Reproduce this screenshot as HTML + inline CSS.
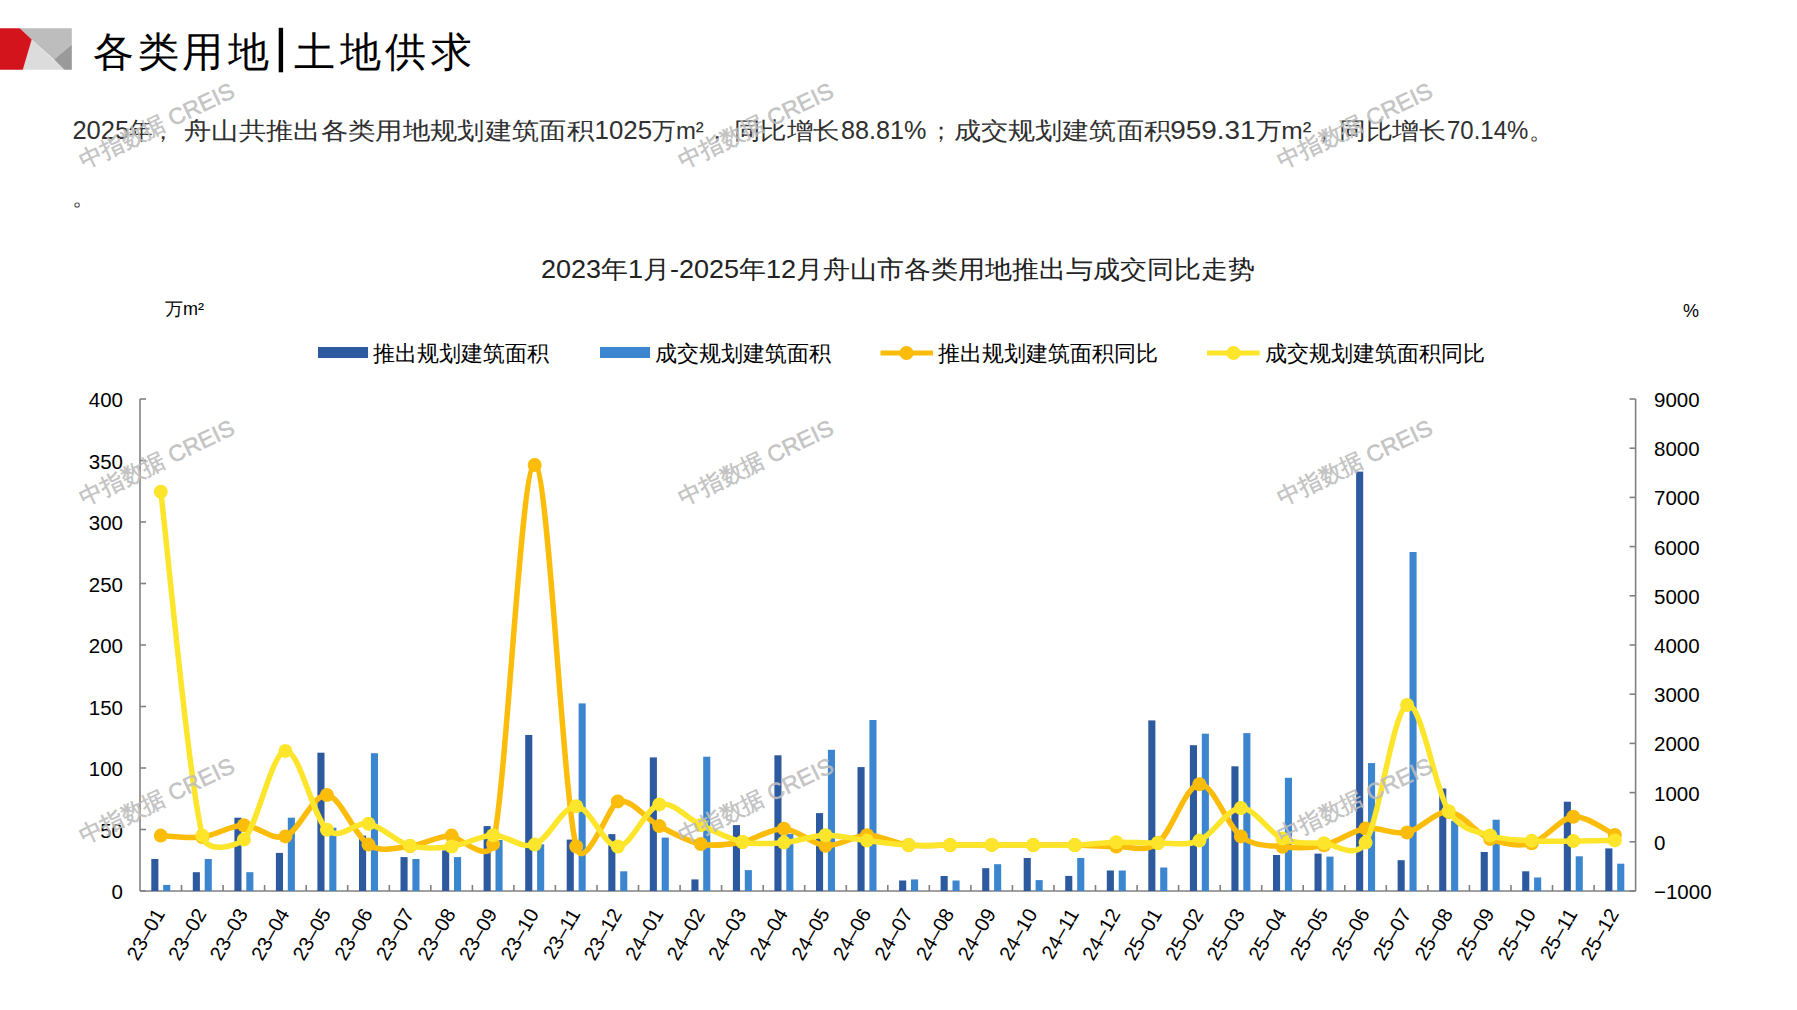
<!DOCTYPE html><html><head><meta charset="utf-8"><style>html,body{margin:0;padding:0;background:#fff;width:1797px;height:1010px;overflow:hidden}svg{display:block}text{font-family:"Liberation Sans",sans-serif}</style></head><body>
<svg width="1797" height="1010" viewBox="0 0 1797 1010">
<polygon points="19.8,28.2 71.8,28.2 71.8,44.6 54,59.4 31.7,39.6" fill="#bdbdbd"/>
<polygon points="31.7,39.6 64.4,69.8 22.8,69.8" fill="#dcdcdc"/>
<polygon points="71.8,44.6 54,59.4 64.4,69.8 71.8,69.8" fill="#9a9a9a"/>
<polygon points="0,28.2 19.8,28.2 31.7,39.6 22.8,69.8 0,69.8" fill="#d4141c"/>
<text x="113.2" y="66" font-size="41" fill="#000" font-weight="300" text-anchor="middle">各</text>
<text x="158.5" y="66" font-size="41" fill="#000" font-weight="300" text-anchor="middle">类</text>
<text x="202.5" y="66" font-size="41" fill="#000" font-weight="300" text-anchor="middle">用</text>
<text x="248.0" y="66" font-size="41" fill="#000" font-weight="300" text-anchor="middle">地</text>
<text x="314.9" y="66" font-size="41" fill="#000" font-weight="300" text-anchor="middle">土</text>
<text x="360.5" y="66" font-size="41" fill="#000" font-weight="300" text-anchor="middle">地</text>
<text x="405.0" y="66" font-size="41" fill="#000" font-weight="300" text-anchor="middle">供</text>
<text x="451.2" y="66" font-size="41" fill="#000" font-weight="300" text-anchor="middle">求</text>
<rect x="278.7" y="27.8" width="4.4" height="44.5" fill="#000"/>
<text x="72.4" y="139" font-size="24" fill="#303030" font-weight="300" textLength="80.4" lengthAdjust="spacingAndGlyphs"><tspan font-size="26">2025</tspan>年</text>
<text x="151.0" y="139" font-size="24" fill="#303030" font-weight="300">，</text>
<text x="184.2" y="139" font-size="24" fill="#303030" font-weight="300" textLength="409.7" lengthAdjust="spacingAndGlyphs">舟山共推出各类用地规划建筑面积</text>
<text x="594.6" y="139" font-size="24" fill="#303030" font-weight="300" textLength="109.2" lengthAdjust="spacingAndGlyphs"><tspan font-size="26">1025</tspan>万m²</text>
<text x="704.6" y="139" font-size="24" fill="#303030" font-weight="300">，</text>
<text x="733.8" y="139" font-size="24" fill="#303030" font-weight="300" textLength="106.2" lengthAdjust="spacingAndGlyphs">同比增长</text>
<text x="840.9" y="139" font-size="24" fill="#303030" font-weight="300" textLength="85.5" lengthAdjust="spacingAndGlyphs"><tspan font-size="26">88.81%</tspan></text>
<text x="928.5" y="139" font-size="24" fill="#303030" font-weight="300">；</text>
<text x="953.6" y="139" font-size="24" fill="#303030" font-weight="300" textLength="217.3" lengthAdjust="spacingAndGlyphs">成交规划建筑面积</text>
<text x="1170.3" y="139" font-size="24" fill="#303030" font-weight="300" textLength="141.1" lengthAdjust="spacingAndGlyphs"><tspan font-size="26">959.31</tspan>万m²</text>
<text x="1312.0" y="139" font-size="24" fill="#303030" font-weight="300">，</text>
<text x="1338.6" y="139" font-size="24" fill="#303030" font-weight="300" textLength="107.8" lengthAdjust="spacingAndGlyphs">同比增长</text>
<text x="1447.0" y="139" font-size="24" fill="#303030" font-weight="300" textLength="81.4" lengthAdjust="spacingAndGlyphs"><tspan font-size="26">70.14%</tspan></text>
<text x="1529.0" y="139" font-size="24" fill="#303030" font-weight="300">。</text>
<text x="72" y="205" font-size="24" fill="#303030" font-weight="300">。</text>
<text x="541" y="278" font-size="25" fill="#222" textLength="714" lengthAdjust="spacingAndGlyphs">2023年1月-2025年12月舟山市各类用地推出与成交同比走势</text>
<text x="165" y="315" font-size="18" fill="#000">万m²</text>
<text x="1683" y="317" font-size="18" fill="#000">%</text>
<rect x="318" y="347" width="50" height="11" fill="#2d5a9f"/>
<text x="373" y="361" font-size="22" fill="#000">推出规划建筑面积</text>
<rect x="600" y="347" width="50" height="11" fill="#3c86d0"/>
<text x="655" y="361" font-size="22" fill="#000">成交规划建筑面积</text>
<line x1="880.5" y1="353" x2="933" y2="353" stroke="#fbbc0a" stroke-width="5"/><circle cx="906.5" cy="353" r="7" fill="#fbbc0a"/>
<text x="938" y="361" font-size="22" fill="#000">推出规划建筑面积同比</text>
<line x1="1207" y1="353" x2="1259.7" y2="353" stroke="#fce52a" stroke-width="5"/><circle cx="1233.5" cy="353" r="7" fill="#fce52a"/>
<text x="1265" y="361" font-size="22" fill="#000">成交规划建筑面积同比</text>
<g stroke="#808080" stroke-width="1.6" fill="none">
<line x1="140.0" y1="399.0" x2="140.0" y2="891.0"/>
<line x1="1635.6" y1="399.0" x2="1635.6" y2="891.0"/>
<line x1="140.0" y1="891.0" x2="1635.6" y2="891.0"/>
<line x1="140.0" y1="891.0" x2="146.0" y2="891.0"/>
<line x1="140.0" y1="829.5" x2="146.0" y2="829.5"/>
<line x1="140.0" y1="768.0" x2="146.0" y2="768.0"/>
<line x1="140.0" y1="706.5" x2="146.0" y2="706.5"/>
<line x1="140.0" y1="645.0" x2="146.0" y2="645.0"/>
<line x1="140.0" y1="583.5" x2="146.0" y2="583.5"/>
<line x1="140.0" y1="522.0" x2="146.0" y2="522.0"/>
<line x1="140.0" y1="460.5" x2="146.0" y2="460.5"/>
<line x1="140.0" y1="399.0" x2="146.0" y2="399.0"/>
<line x1="1629.6" y1="891.0" x2="1635.6" y2="891.0"/>
<line x1="1629.6" y1="841.8" x2="1635.6" y2="841.8"/>
<line x1="1629.6" y1="792.6" x2="1635.6" y2="792.6"/>
<line x1="1629.6" y1="743.4" x2="1635.6" y2="743.4"/>
<line x1="1629.6" y1="694.2" x2="1635.6" y2="694.2"/>
<line x1="1629.6" y1="645.0" x2="1635.6" y2="645.0"/>
<line x1="1629.6" y1="595.8" x2="1635.6" y2="595.8"/>
<line x1="1629.6" y1="546.6" x2="1635.6" y2="546.6"/>
<line x1="1629.6" y1="497.4" x2="1635.6" y2="497.4"/>
<line x1="1629.6" y1="448.2" x2="1635.6" y2="448.2"/>
<line x1="1629.6" y1="399.0" x2="1635.6" y2="399.0"/>
<line x1="181.5" y1="885.0" x2="181.5" y2="891.0"/>
<line x1="223.1" y1="885.0" x2="223.1" y2="891.0"/>
<line x1="264.6" y1="885.0" x2="264.6" y2="891.0"/>
<line x1="306.2" y1="885.0" x2="306.2" y2="891.0"/>
<line x1="347.7" y1="885.0" x2="347.7" y2="891.0"/>
<line x1="389.3" y1="885.0" x2="389.3" y2="891.0"/>
<line x1="430.8" y1="885.0" x2="430.8" y2="891.0"/>
<line x1="472.4" y1="885.0" x2="472.4" y2="891.0"/>
<line x1="513.9" y1="885.0" x2="513.9" y2="891.0"/>
<line x1="555.4" y1="885.0" x2="555.4" y2="891.0"/>
<line x1="597.0" y1="885.0" x2="597.0" y2="891.0"/>
<line x1="638.5" y1="885.0" x2="638.5" y2="891.0"/>
<line x1="680.1" y1="885.0" x2="680.1" y2="891.0"/>
<line x1="721.6" y1="885.0" x2="721.6" y2="891.0"/>
<line x1="763.2" y1="885.0" x2="763.2" y2="891.0"/>
<line x1="804.7" y1="885.0" x2="804.7" y2="891.0"/>
<line x1="846.3" y1="885.0" x2="846.3" y2="891.0"/>
<line x1="887.8" y1="885.0" x2="887.8" y2="891.0"/>
<line x1="929.3" y1="885.0" x2="929.3" y2="891.0"/>
<line x1="970.9" y1="885.0" x2="970.9" y2="891.0"/>
<line x1="1012.4" y1="885.0" x2="1012.4" y2="891.0"/>
<line x1="1054.0" y1="885.0" x2="1054.0" y2="891.0"/>
<line x1="1095.5" y1="885.0" x2="1095.5" y2="891.0"/>
<line x1="1137.1" y1="885.0" x2="1137.1" y2="891.0"/>
<line x1="1178.6" y1="885.0" x2="1178.6" y2="891.0"/>
<line x1="1220.2" y1="885.0" x2="1220.2" y2="891.0"/>
<line x1="1261.7" y1="885.0" x2="1261.7" y2="891.0"/>
<line x1="1303.2" y1="885.0" x2="1303.2" y2="891.0"/>
<line x1="1344.8" y1="885.0" x2="1344.8" y2="891.0"/>
<line x1="1386.3" y1="885.0" x2="1386.3" y2="891.0"/>
<line x1="1427.9" y1="885.0" x2="1427.9" y2="891.0"/>
<line x1="1469.4" y1="885.0" x2="1469.4" y2="891.0"/>
<line x1="1511.0" y1="885.0" x2="1511.0" y2="891.0"/>
<line x1="1552.5" y1="885.0" x2="1552.5" y2="891.0"/>
<line x1="1594.1" y1="885.0" x2="1594.1" y2="891.0"/>
</g>
<g font-size="20.5" fill="#000">
<text x="123" y="899.0" text-anchor="end">0</text>
<text x="123" y="837.5" text-anchor="end">50</text>
<text x="123" y="776.0" text-anchor="end">100</text>
<text x="123" y="714.5" text-anchor="end">150</text>
<text x="123" y="653.0" text-anchor="end">200</text>
<text x="123" y="591.5" text-anchor="end">250</text>
<text x="123" y="530.0" text-anchor="end">300</text>
<text x="123" y="468.5" text-anchor="end">350</text>
<text x="123" y="407.0" text-anchor="end">400</text>
<text x="1654" y="899.0">−1000</text>
<text x="1654" y="849.8">0</text>
<text x="1654" y="800.6">1000</text>
<text x="1654" y="751.4">2000</text>
<text x="1654" y="702.2">3000</text>
<text x="1654" y="653.0">4000</text>
<text x="1654" y="603.8">5000</text>
<text x="1654" y="554.6">6000</text>
<text x="1654" y="505.4">7000</text>
<text x="1654" y="456.2">8000</text>
<text x="1654" y="407.0">9000</text>
<text transform="translate(159.5,910) rotate(-60)" text-anchor="end" y="7" font-size="20">23–01</text>
<text transform="translate(201.0,910) rotate(-60)" text-anchor="end" y="7" font-size="20">23–02</text>
<text transform="translate(242.6,910) rotate(-60)" text-anchor="end" y="7" font-size="20">23–03</text>
<text transform="translate(284.1,910) rotate(-60)" text-anchor="end" y="7" font-size="20">23–04</text>
<text transform="translate(325.6,910) rotate(-60)" text-anchor="end" y="7" font-size="20">23–05</text>
<text transform="translate(367.2,910) rotate(-60)" text-anchor="end" y="7" font-size="20">23–06</text>
<text transform="translate(408.7,910) rotate(-60)" text-anchor="end" y="7" font-size="20">23–07</text>
<text transform="translate(450.3,910) rotate(-60)" text-anchor="end" y="7" font-size="20">23–08</text>
<text transform="translate(491.8,910) rotate(-60)" text-anchor="end" y="7" font-size="20">23–09</text>
<text transform="translate(533.4,910) rotate(-60)" text-anchor="end" y="7" font-size="20">23–10</text>
<text transform="translate(574.9,910) rotate(-60)" text-anchor="end" y="7" font-size="20">23–11</text>
<text transform="translate(616.5,910) rotate(-60)" text-anchor="end" y="7" font-size="20">23–12</text>
<text transform="translate(658.0,910) rotate(-60)" text-anchor="end" y="7" font-size="20">24–01</text>
<text transform="translate(699.6,910) rotate(-60)" text-anchor="end" y="7" font-size="20">24–02</text>
<text transform="translate(741.1,910) rotate(-60)" text-anchor="end" y="7" font-size="20">24–03</text>
<text transform="translate(782.6,910) rotate(-60)" text-anchor="end" y="7" font-size="20">24–04</text>
<text transform="translate(824.2,910) rotate(-60)" text-anchor="end" y="7" font-size="20">24–05</text>
<text transform="translate(865.7,910) rotate(-60)" text-anchor="end" y="7" font-size="20">24–06</text>
<text transform="translate(907.3,910) rotate(-60)" text-anchor="end" y="7" font-size="20">24–07</text>
<text transform="translate(948.8,910) rotate(-60)" text-anchor="end" y="7" font-size="20">24–08</text>
<text transform="translate(990.4,910) rotate(-60)" text-anchor="end" y="7" font-size="20">24–09</text>
<text transform="translate(1031.9,910) rotate(-60)" text-anchor="end" y="7" font-size="20">24–10</text>
<text transform="translate(1073.5,910) rotate(-60)" text-anchor="end" y="7" font-size="20">24–11</text>
<text transform="translate(1115.0,910) rotate(-60)" text-anchor="end" y="7" font-size="20">24–12</text>
<text transform="translate(1156.5,910) rotate(-60)" text-anchor="end" y="7" font-size="20">25–01</text>
<text transform="translate(1198.1,910) rotate(-60)" text-anchor="end" y="7" font-size="20">25–02</text>
<text transform="translate(1239.6,910) rotate(-60)" text-anchor="end" y="7" font-size="20">25–03</text>
<text transform="translate(1281.2,910) rotate(-60)" text-anchor="end" y="7" font-size="20">25–04</text>
<text transform="translate(1322.7,910) rotate(-60)" text-anchor="end" y="7" font-size="20">25–05</text>
<text transform="translate(1364.3,910) rotate(-60)" text-anchor="end" y="7" font-size="20">25–06</text>
<text transform="translate(1405.8,910) rotate(-60)" text-anchor="end" y="7" font-size="20">25–07</text>
<text transform="translate(1447.4,910) rotate(-60)" text-anchor="end" y="7" font-size="20">25–08</text>
<text transform="translate(1488.9,910) rotate(-60)" text-anchor="end" y="7" font-size="20">25–09</text>
<text transform="translate(1530.4,910) rotate(-60)" text-anchor="end" y="7" font-size="20">25–10</text>
<text transform="translate(1572.0,910) rotate(-60)" text-anchor="end" y="7" font-size="20">25–11</text>
<text transform="translate(1613.5,910) rotate(-60)" text-anchor="end" y="7" font-size="20">25–12</text>
</g>
<rect x="151.3" y="859.0" width="7.1" height="32.0" fill="#2d5a9f"/>
<rect x="163.2" y="884.9" width="7.1" height="6.1" fill="#3c86d0"/>
<rect x="192.8" y="872.2" width="7.1" height="18.8" fill="#2d5a9f"/>
<rect x="204.7" y="859.0" width="7.1" height="32.0" fill="#3c86d0"/>
<rect x="234.4" y="817.7" width="7.1" height="73.3" fill="#2d5a9f"/>
<rect x="246.3" y="872.2" width="7.1" height="18.8" fill="#3c86d0"/>
<rect x="275.9" y="852.9" width="7.1" height="38.1" fill="#2d5a9f"/>
<rect x="287.8" y="817.7" width="7.1" height="73.3" fill="#3c86d0"/>
<rect x="317.4" y="752.7" width="7.1" height="138.3" fill="#2d5a9f"/>
<rect x="329.3" y="827.7" width="7.1" height="63.3" fill="#3c86d0"/>
<rect x="359.0" y="835.6" width="7.1" height="55.4" fill="#2d5a9f"/>
<rect x="370.9" y="753.2" width="7.1" height="137.8" fill="#3c86d0"/>
<rect x="400.5" y="857.1" width="7.1" height="33.9" fill="#2d5a9f"/>
<rect x="412.4" y="859.0" width="7.1" height="32.0" fill="#3c86d0"/>
<rect x="442.1" y="850.4" width="7.1" height="40.6" fill="#2d5a9f"/>
<rect x="454.0" y="857.1" width="7.1" height="33.9" fill="#3c86d0"/>
<rect x="483.6" y="826.1" width="7.1" height="64.9" fill="#2d5a9f"/>
<rect x="495.5" y="840.0" width="7.1" height="51.0" fill="#3c86d0"/>
<rect x="525.2" y="735.0" width="7.1" height="156.0" fill="#2d5a9f"/>
<rect x="537.1" y="844.3" width="7.1" height="46.7" fill="#3c86d0"/>
<rect x="566.7" y="839.6" width="7.1" height="51.4" fill="#2d5a9f"/>
<rect x="578.6" y="703.4" width="7.1" height="187.6" fill="#3c86d0"/>
<rect x="608.3" y="834.1" width="7.1" height="56.9" fill="#2d5a9f"/>
<rect x="620.2" y="871.3" width="7.1" height="19.7" fill="#3c86d0"/>
<rect x="649.8" y="757.4" width="7.1" height="133.6" fill="#2d5a9f"/>
<rect x="661.7" y="837.6" width="7.1" height="53.4" fill="#3c86d0"/>
<rect x="691.4" y="879.4" width="7.1" height="11.6" fill="#2d5a9f"/>
<rect x="703.2" y="756.7" width="7.1" height="134.3" fill="#3c86d0"/>
<rect x="732.9" y="825.1" width="7.1" height="65.9" fill="#2d5a9f"/>
<rect x="744.8" y="870.1" width="7.1" height="20.9" fill="#3c86d0"/>
<rect x="774.4" y="755.3" width="7.1" height="135.7" fill="#2d5a9f"/>
<rect x="786.3" y="833.9" width="7.1" height="57.1" fill="#3c86d0"/>
<rect x="816.0" y="813.1" width="7.1" height="77.9" fill="#2d5a9f"/>
<rect x="827.9" y="749.8" width="7.1" height="141.2" fill="#3c86d0"/>
<rect x="857.5" y="767.1" width="7.1" height="123.9" fill="#2d5a9f"/>
<rect x="869.4" y="720.0" width="7.1" height="171.0" fill="#3c86d0"/>
<rect x="899.1" y="880.5" width="7.1" height="10.5" fill="#2d5a9f"/>
<rect x="911.0" y="879.4" width="7.1" height="11.6" fill="#3c86d0"/>
<rect x="940.6" y="876.0" width="7.1" height="15.0" fill="#2d5a9f"/>
<rect x="952.5" y="880.5" width="7.1" height="10.5" fill="#3c86d0"/>
<rect x="982.2" y="868.2" width="7.1" height="22.8" fill="#2d5a9f"/>
<rect x="994.1" y="864.2" width="7.1" height="26.8" fill="#3c86d0"/>
<rect x="1023.7" y="858.0" width="7.1" height="33.0" fill="#2d5a9f"/>
<rect x="1035.6" y="880.1" width="7.1" height="10.9" fill="#3c86d0"/>
<rect x="1065.2" y="875.9" width="7.1" height="15.1" fill="#2d5a9f"/>
<rect x="1077.2" y="858.0" width="7.1" height="33.0" fill="#3c86d0"/>
<rect x="1106.8" y="870.5" width="7.1" height="20.5" fill="#2d5a9f"/>
<rect x="1118.7" y="870.5" width="7.1" height="20.5" fill="#3c86d0"/>
<rect x="1148.3" y="720.4" width="7.1" height="170.6" fill="#2d5a9f"/>
<rect x="1160.2" y="867.5" width="7.1" height="23.5" fill="#3c86d0"/>
<rect x="1189.9" y="745.2" width="7.1" height="145.8" fill="#2d5a9f"/>
<rect x="1201.8" y="733.7" width="7.1" height="157.3" fill="#3c86d0"/>
<rect x="1231.4" y="766.3" width="7.1" height="124.7" fill="#2d5a9f"/>
<rect x="1243.3" y="733.1" width="7.1" height="157.9" fill="#3c86d0"/>
<rect x="1273.0" y="855.0" width="7.1" height="36.0" fill="#2d5a9f"/>
<rect x="1284.9" y="777.8" width="7.1" height="113.2" fill="#3c86d0"/>
<rect x="1314.5" y="853.6" width="7.1" height="37.4" fill="#2d5a9f"/>
<rect x="1326.4" y="856.6" width="7.1" height="34.4" fill="#3c86d0"/>
<rect x="1356.1" y="471.6" width="7.1" height="419.4" fill="#2d5a9f"/>
<rect x="1368.0" y="763.1" width="7.1" height="127.9" fill="#3c86d0"/>
<rect x="1397.6" y="860.2" width="7.1" height="30.8" fill="#2d5a9f"/>
<rect x="1409.5" y="552.0" width="7.1" height="339.0" fill="#3c86d0"/>
<rect x="1439.2" y="788.5" width="7.1" height="102.5" fill="#2d5a9f"/>
<rect x="1451.1" y="820.9" width="7.1" height="70.1" fill="#3c86d0"/>
<rect x="1480.7" y="852.0" width="7.1" height="39.0" fill="#2d5a9f"/>
<rect x="1492.6" y="819.7" width="7.1" height="71.3" fill="#3c86d0"/>
<rect x="1522.2" y="871.3" width="7.1" height="19.7" fill="#2d5a9f"/>
<rect x="1534.1" y="877.5" width="7.1" height="13.5" fill="#3c86d0"/>
<rect x="1563.8" y="801.7" width="7.1" height="89.3" fill="#2d5a9f"/>
<rect x="1575.7" y="856.3" width="7.1" height="34.7" fill="#3c86d0"/>
<rect x="1605.3" y="848.4" width="7.1" height="42.6" fill="#2d5a9f"/>
<rect x="1617.2" y="863.7" width="7.1" height="27.3" fill="#3c86d0"/>
<path d="M160.8,835.6 C167.7,835.8 188.5,838.7 202.3,837.0 C216.2,835.3 230.0,825.4 243.9,825.3 C257.7,825.2 271.6,841.4 285.4,836.4 C299.3,831.3 313.1,793.6 326.9,795.0 C340.8,796.4 354.6,836.1 368.5,844.6 C382.3,853.1 396.2,847.6 410.0,846.1 C423.9,844.6 437.7,835.9 451.6,835.6 C456.2,835.5 488.5,864.7 493.1,844.0 C507.0,782.2 520.8,464.6 534.7,465.0 C548.5,465.4 562.4,790.5 576.2,846.5 C583.6,876.3 610.4,803.2 617.8,801.4 C631.6,798.0 645.5,819.0 659.3,826.1 C673.2,833.2 687.0,841.4 700.9,844.0 C714.7,846.7 728.5,844.5 742.4,842.0 C756.2,839.4 770.1,828.1 783.9,828.7 C797.8,829.3 811.6,844.7 825.5,845.7 C839.3,846.8 853.2,835.3 867.0,835.2 C880.9,835.1 894.7,843.4 908.6,845.1 C922.4,846.7 936.3,845.1 950.1,845.1 C964.0,845.1 977.8,844.9 991.7,844.9 C1005.5,844.9 1019.4,845.1 1033.2,845.1 C1047.1,845.1 1060.9,844.9 1074.8,845.1 C1088.6,845.3 1102.4,846.9 1116.3,846.5 C1130.1,846.2 1144.0,853.4 1157.8,843.0 C1171.7,832.6 1185.5,785.3 1199.4,784.2 C1213.2,783.1 1227.1,826.0 1240.9,836.4 C1254.8,846.8 1268.6,845.2 1282.5,846.7 C1296.3,848.2 1310.2,848.3 1324.0,845.2 C1337.9,842.2 1351.7,830.6 1365.6,828.5 C1379.4,826.4 1393.3,835.3 1407.1,832.5 C1421.0,829.7 1434.8,810.8 1448.7,811.9 C1462.5,813.0 1476.3,833.8 1490.2,839.0 C1504.0,844.2 1517.9,847.0 1531.7,843.3 C1545.6,839.6 1559.4,818.2 1573.3,816.8 C1587.1,815.4 1607.9,831.9 1614.8,834.9" fill="none" stroke="#fbbc0a" stroke-width="5.5" stroke-linejoin="round" stroke-linecap="round"/>
<circle cx="160.8" cy="835.6" r="7" fill="#fbbc0a"/>
<circle cx="202.3" cy="837.0" r="7" fill="#fbbc0a"/>
<circle cx="243.9" cy="825.3" r="7" fill="#fbbc0a"/>
<circle cx="285.4" cy="836.4" r="7" fill="#fbbc0a"/>
<circle cx="326.9" cy="795.0" r="7" fill="#fbbc0a"/>
<circle cx="368.5" cy="844.6" r="7" fill="#fbbc0a"/>
<circle cx="410.0" cy="846.1" r="7" fill="#fbbc0a"/>
<circle cx="451.6" cy="835.6" r="7" fill="#fbbc0a"/>
<circle cx="493.1" cy="844.0" r="7" fill="#fbbc0a"/>
<circle cx="534.7" cy="465.0" r="7" fill="#fbbc0a"/>
<circle cx="576.2" cy="846.5" r="7" fill="#fbbc0a"/>
<circle cx="617.8" cy="801.4" r="7" fill="#fbbc0a"/>
<circle cx="659.3" cy="826.1" r="7" fill="#fbbc0a"/>
<circle cx="700.9" cy="844.0" r="7" fill="#fbbc0a"/>
<circle cx="742.4" cy="842.0" r="7" fill="#fbbc0a"/>
<circle cx="783.9" cy="828.7" r="7" fill="#fbbc0a"/>
<circle cx="825.5" cy="845.7" r="7" fill="#fbbc0a"/>
<circle cx="867.0" cy="835.2" r="7" fill="#fbbc0a"/>
<circle cx="908.6" cy="845.1" r="7" fill="#fbbc0a"/>
<circle cx="950.1" cy="845.1" r="7" fill="#fbbc0a"/>
<circle cx="991.7" cy="844.9" r="7" fill="#fbbc0a"/>
<circle cx="1033.2" cy="845.1" r="7" fill="#fbbc0a"/>
<circle cx="1074.8" cy="845.1" r="7" fill="#fbbc0a"/>
<circle cx="1116.3" cy="846.5" r="7" fill="#fbbc0a"/>
<circle cx="1157.8" cy="843.0" r="7" fill="#fbbc0a"/>
<circle cx="1199.4" cy="784.2" r="7" fill="#fbbc0a"/>
<circle cx="1240.9" cy="836.4" r="7" fill="#fbbc0a"/>
<circle cx="1282.5" cy="846.7" r="7" fill="#fbbc0a"/>
<circle cx="1324.0" cy="845.2" r="7" fill="#fbbc0a"/>
<circle cx="1365.6" cy="828.5" r="7" fill="#fbbc0a"/>
<circle cx="1407.1" cy="832.5" r="7" fill="#fbbc0a"/>
<circle cx="1448.7" cy="811.9" r="7" fill="#fbbc0a"/>
<circle cx="1490.2" cy="839.0" r="7" fill="#fbbc0a"/>
<circle cx="1531.7" cy="843.3" r="7" fill="#fbbc0a"/>
<circle cx="1573.3" cy="816.8" r="7" fill="#fbbc0a"/>
<circle cx="1614.8" cy="834.9" r="7" fill="#fbbc0a"/>
<path d="M160.8,491.7 C167.7,549.0 188.5,777.6 202.3,835.6 C207.2,855.9 239.0,844.5 243.9,839.6 C257.7,825.5 271.6,752.5 285.4,750.9 C299.3,749.2 313.1,817.5 326.9,829.7 C340.8,841.8 354.6,821.1 368.5,823.8 C382.3,826.5 396.2,841.9 410.0,845.7 C423.9,849.5 437.7,848.3 451.6,846.5 C465.4,844.8 479.3,835.5 493.1,835.2 C507.0,834.9 520.8,849.4 534.7,844.6 C548.5,839.8 562.4,806.0 576.2,806.3 C590.1,806.6 603.9,846.8 617.8,846.5 C631.6,846.2 645.5,808.0 659.3,804.4 C673.2,800.8 687.0,818.8 700.9,825.1 C714.7,831.3 728.5,839.1 742.4,842.0 C756.2,844.9 770.1,843.7 783.9,842.6 C797.8,841.5 811.6,835.5 825.5,835.2 C839.3,834.9 853.2,839.0 867.0,840.6 C880.9,842.3 894.7,844.4 908.6,845.1 C922.4,845.8 936.3,845.1 950.1,845.1 C964.0,845.1 977.8,844.9 991.7,844.9 C1005.5,844.9 1019.4,845.1 1033.2,845.1 C1047.1,845.1 1060.9,845.6 1074.8,845.1 C1088.6,844.6 1102.4,842.5 1116.3,842.2 C1130.1,841.8 1144.0,843.2 1157.8,843.0 C1171.7,842.7 1185.5,846.4 1199.4,840.6 C1213.2,834.8 1227.1,808.3 1240.9,808.0 C1254.8,807.7 1268.6,832.7 1282.5,838.6 C1296.3,844.5 1310.2,842.6 1324.0,843.3 C1334.7,843.8 1354.9,860.4 1365.6,842.6 C1379.4,819.5 1393.3,710.2 1407.1,705.0 C1421.0,699.8 1434.8,789.5 1448.7,811.3 C1461.6,831.6 1477.3,830.9 1490.2,835.5 C1504.0,840.4 1517.9,839.9 1531.7,840.8 C1545.6,841.8 1559.4,841.2 1573.3,841.1 C1587.1,841.0 1607.9,840.5 1614.8,840.4" fill="none" stroke="#fce52a" stroke-width="5.5" stroke-linejoin="round" stroke-linecap="round"/>
<circle cx="160.8" cy="491.7" r="7" fill="#fce52a"/>
<circle cx="202.3" cy="835.6" r="7" fill="#fce52a"/>
<circle cx="243.9" cy="839.6" r="7" fill="#fce52a"/>
<circle cx="285.4" cy="750.9" r="7" fill="#fce52a"/>
<circle cx="326.9" cy="829.7" r="7" fill="#fce52a"/>
<circle cx="368.5" cy="823.8" r="7" fill="#fce52a"/>
<circle cx="410.0" cy="845.7" r="7" fill="#fce52a"/>
<circle cx="451.6" cy="846.5" r="7" fill="#fce52a"/>
<circle cx="493.1" cy="835.2" r="7" fill="#fce52a"/>
<circle cx="534.7" cy="844.6" r="7" fill="#fce52a"/>
<circle cx="576.2" cy="806.3" r="7" fill="#fce52a"/>
<circle cx="617.8" cy="846.5" r="7" fill="#fce52a"/>
<circle cx="659.3" cy="804.4" r="7" fill="#fce52a"/>
<circle cx="700.9" cy="825.1" r="7" fill="#fce52a"/>
<circle cx="742.4" cy="842.0" r="7" fill="#fce52a"/>
<circle cx="783.9" cy="842.6" r="7" fill="#fce52a"/>
<circle cx="825.5" cy="835.2" r="7" fill="#fce52a"/>
<circle cx="867.0" cy="840.6" r="7" fill="#fce52a"/>
<circle cx="908.6" cy="845.1" r="7" fill="#fce52a"/>
<circle cx="950.1" cy="845.1" r="7" fill="#fce52a"/>
<circle cx="991.7" cy="844.9" r="7" fill="#fce52a"/>
<circle cx="1033.2" cy="845.1" r="7" fill="#fce52a"/>
<circle cx="1074.8" cy="845.1" r="7" fill="#fce52a"/>
<circle cx="1116.3" cy="842.2" r="7" fill="#fce52a"/>
<circle cx="1157.8" cy="843.0" r="7" fill="#fce52a"/>
<circle cx="1199.4" cy="840.6" r="7" fill="#fce52a"/>
<circle cx="1240.9" cy="808.0" r="7" fill="#fce52a"/>
<circle cx="1282.5" cy="838.6" r="7" fill="#fce52a"/>
<circle cx="1324.0" cy="843.3" r="7" fill="#fce52a"/>
<circle cx="1365.6" cy="842.6" r="7" fill="#fce52a"/>
<circle cx="1407.1" cy="705.0" r="7" fill="#fce52a"/>
<circle cx="1448.7" cy="811.3" r="7" fill="#fce52a"/>
<circle cx="1490.2" cy="835.5" r="7" fill="#fce52a"/>
<circle cx="1531.7" cy="840.8" r="7" fill="#fce52a"/>
<circle cx="1573.3" cy="841.1" r="7" fill="#fce52a"/>
<circle cx="1614.8" cy="840.4" r="7" fill="#fce52a"/>
<text transform="translate(84,169) rotate(-25.5)" font-size="23" fill="#bdbdbd" stroke="#bdbdbd" stroke-width="0.5" fill-opacity="0.9" stroke-opacity="0.9">中指数据 CREIS</text>
<text transform="translate(84,506) rotate(-25.5)" font-size="23" fill="#bdbdbd" stroke="#bdbdbd" stroke-width="0.5" fill-opacity="0.9" stroke-opacity="0.9">中指数据 CREIS</text>
<text transform="translate(84,844) rotate(-25.5)" font-size="23" fill="#bdbdbd" stroke="#bdbdbd" stroke-width="0.5" fill-opacity="0.9" stroke-opacity="0.9">中指数据 CREIS</text>
<text transform="translate(683,169) rotate(-25.5)" font-size="23" fill="#bdbdbd" stroke="#bdbdbd" stroke-width="0.5" fill-opacity="0.9" stroke-opacity="0.9">中指数据 CREIS</text>
<text transform="translate(683,506) rotate(-25.5)" font-size="23" fill="#bdbdbd" stroke="#bdbdbd" stroke-width="0.5" fill-opacity="0.9" stroke-opacity="0.9">中指数据 CREIS</text>
<text transform="translate(683,844) rotate(-25.5)" font-size="23" fill="#bdbdbd" stroke="#bdbdbd" stroke-width="0.5" fill-opacity="0.9" stroke-opacity="0.9">中指数据 CREIS</text>
<text transform="translate(1282,169) rotate(-25.5)" font-size="23" fill="#bdbdbd" stroke="#bdbdbd" stroke-width="0.5" fill-opacity="0.9" stroke-opacity="0.9">中指数据 CREIS</text>
<text transform="translate(1282,506) rotate(-25.5)" font-size="23" fill="#bdbdbd" stroke="#bdbdbd" stroke-width="0.5" fill-opacity="0.9" stroke-opacity="0.9">中指数据 CREIS</text>
<text transform="translate(1282,844) rotate(-25.5)" font-size="23" fill="#bdbdbd" stroke="#bdbdbd" stroke-width="0.5" fill-opacity="0.9" stroke-opacity="0.9">中指数据 CREIS</text>
</svg></body></html>
